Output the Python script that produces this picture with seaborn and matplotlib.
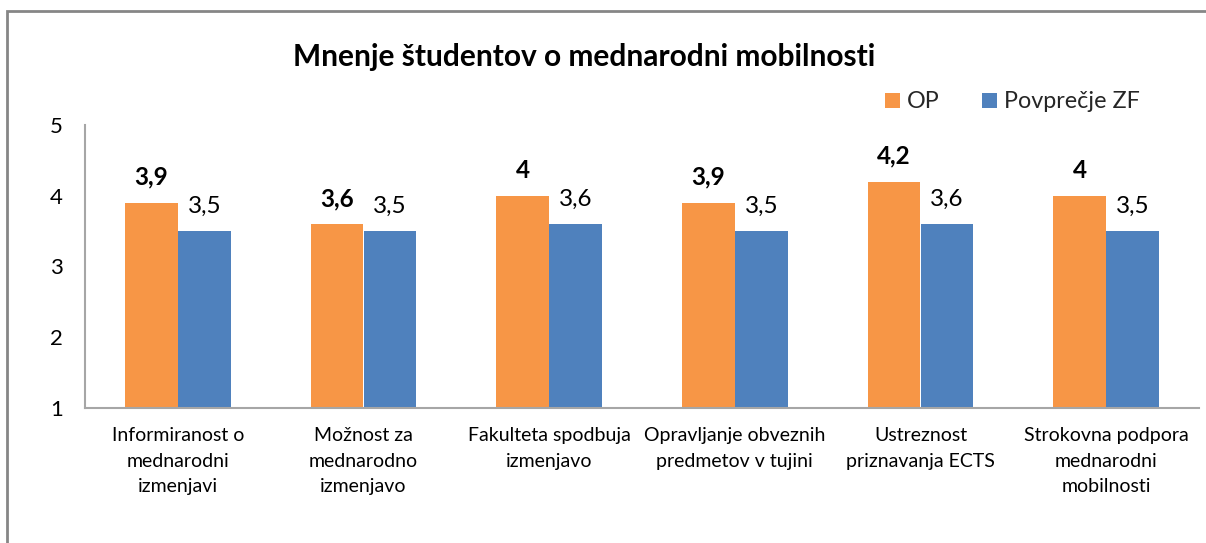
import matplotlib
matplotlib.use("Agg")
import matplotlib.pyplot as plt
import seaborn as sns
import pandas as pd
from matplotlib.patches import Rectangle

categories = [
    "Informiranost o\nmednarodni\nizmenjavi",
    "Možnost za\nmednarodno\nizmenjavo",
    "Fakulteta spodbuja\nizmenjavo",
    "Opravljanje obveznih\npredmetov v tujini",
    "Ustreznost\npriznavanja ECTS",
    "Strokovna podpora\nmednarodni\nmobilnosti",
]
series_names = ["OP", "Povprečje ZF"]
op_values = [3.9, 3.6, 4.0, 3.9, 4.2, 4.0]
zf_values = [3.5, 3.5, 3.6, 3.5, 3.6, 3.5]
op_labels = ["3,9", "3,6", "4", "3,9", "4,2", "4"]
zf_labels = ["3,5", "3,5", "3,6", "3,5", "3,6", "3,5"]
y_ticks = [1, 2, 3, 4, 5]
title = "Mnenje študentov o mednarodni mobilnosti"

colors = ["#F79646", "#4F81BD"]

df = pd.DataFrame({
    "cat": categories * 2,
    "series": [series_names[0]] * len(categories) + [series_names[1]] * len(categories),
    "value": op_values + zf_values,
})

sns.set_theme(style="white")
plt.rcParams["font.family"] = ["Lato", "DejaVu Sans"]

W, H = 1206, 543
fig = plt.figure(figsize=(W / 100, H / 100), dpi=100)
ax = fig.add_axes([85 / W, 1 - 408 / H, (1199 - 85) / W, (408 - 125) / H])

sns.barplot(data=df, x="cat", y="value", hue="series", palette=colors,
            width=0.57, gap=0, dodge=True, ax=ax, saturation=1,
            edgecolor="none", linewidth=0, legend=False)

ax.set_ylim(1, 5)
ax.set_yticks(y_ticks)
ax.set_yticklabels([str(t) for t in y_ticks])
ax.set_xlabel("")
ax.set_ylabel("")
ax.tick_params(axis="y", length=0, pad=16, labelsize=16, labelcolor="#000000")
ax.tick_params(axis="x", length=0, pad=14, labelsize=14, labelcolor="#000000")
for lbl in ax.get_xticklabels():
    lbl.set_linespacing(1.6)
    lbl.set_verticalalignment("top")

for s in ["top", "right"]:
    ax.spines[s].set_visible(False)
for s in ["left", "bottom"]:
    ax.spines[s].set_color("#A6A6A6")
    ax.spines[s].set_linewidth(1.5)

containers = ax.containers
for cont, labels, weight in [(containers[0], op_labels, "bold"), (containers[1], zf_labels, "normal")]:
    for bar, lab in zip(cont, labels):
        ax.annotate(lab, (bar.get_x() + bar.get_width() / 2, bar.get_height()),
                    xytext=(0, 13), textcoords="offset points",
                    ha="center", va="baseline", fontsize=17.5, fontweight=weight,
                    color="#000000")

fig.text(584 / W, 1 - 57 / H, title, ha="center", va="center",
         fontsize=21.5, fontweight="bold", color="#000000")

handles = [Rectangle((0, 0), 1, 1, facecolor=c, edgecolor="none") for c in colors]
fig.legend(handles, series_names, loc="center",
           bbox_to_anchor=((885 + 1140) / 2 / W, 1 - 102 / H),
           ncol=2, frameon=False, fontsize=16.8, handlelength=0.65, handleheight=0.65,
           handletextpad=0.3, columnspacing=1.8)

fig.patches.append(Rectangle((7 / W, -0.1), 1.2, 1.1 - 11 / H, transform=fig.transFigure,
                             fill=False, edgecolor="#868686", linewidth=2, zorder=10))

fig.savefig("out.png", dpi=100)
